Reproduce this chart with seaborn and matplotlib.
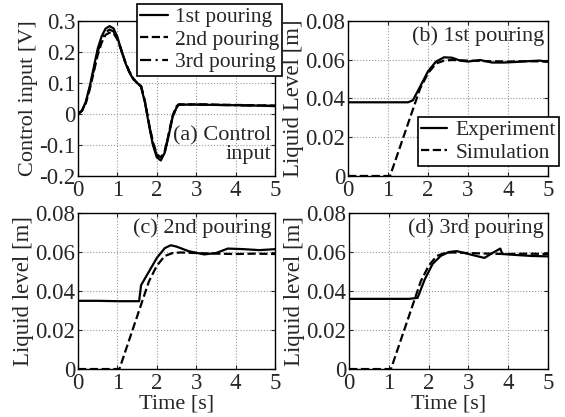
import matplotlib
matplotlib.use("Agg")
import matplotlib.pyplot as plt
import seaborn as sns

# Control input [V]
t_u = [0, 0.1, 0.2, 0.3, 0.4, 0.5, 0.6, 0.7, 0.8, 0.9, 1.0, 1.1, 1.2, 1.3, 1.4, 1.5, 1.6,
       1.7, 1.8, 1.9, 2.0, 2.1, 2.2, 2.3, 2.4, 2.5, 2.55, 3.0, 3.5, 4.0, 4.5, 5.0]
u_1st = [0, 0.01, 0.04, 0.09, 0.15, 0.21, 0.25, 0.275, 0.283, 0.276, 0.248, 0.205, 0.165, 0.135,
         0.112, 0.10, 0.088, 0.035, -0.035, -0.10, -0.14, -0.15, -0.125, -0.07, -0.01, 0.02, 0.03,
         0.03, 0.029, 0.028, 0.027, 0.025]
u_2nd = [0, 0.01, 0.035, 0.08, 0.135, 0.19, 0.23, 0.255, 0.262, 0.26, 0.24, 0.205, 0.168, 0.138,
         0.115, 0.10, 0.09, 0.04, -0.03, -0.09, -0.13, -0.14, -0.12, -0.065, -0.005, 0.025, 0.03,
         0.031, 0.03, 0.029, 0.028, 0.027]
u_3rd = [0, 0.01, 0.038, 0.085, 0.14, 0.2, 0.24, 0.263, 0.272, 0.266, 0.243, 0.205, 0.166, 0.136,
         0.113, 0.10, 0.089, 0.038, -0.032, -0.095, -0.135, -0.145, -0.122, -0.067, -0.008, 0.022, 0.03,
         0.03, 0.029, 0.028, 0.027, 0.026]

# Simulated liquid level [m] (same for all pourings)
t_sim = [0, 1.05, 1.5, 1.8, 2.0, 2.2, 2.4, 2.6, 3.0, 3.5, 4.0, 4.5, 5.0]
h_sim = [0, 0, 0.027, 0.045, 0.053, 0.058, 0.0595, 0.0598, 0.0595, 0.0592, 0.059, 0.0592, 0.059]

# Experimental liquid level [m]
t_exp1 = [0, 0.5, 1.0, 1.5, 1.62, 1.8, 2.0, 2.2, 2.4, 2.6, 2.8, 3.0, 3.3, 3.6, 3.9, 4.2, 4.5, 4.8, 5.0]
h_exp1 = [0.038, 0.038, 0.038, 0.038, 0.039, 0.046, 0.054, 0.059, 0.0612, 0.061, 0.0595, 0.059,
          0.0598, 0.0585, 0.0585, 0.0588, 0.0592, 0.0595, 0.0588]
t_exp2 = [0, 0.5, 1.0, 1.55, 1.6, 1.8, 2.0, 2.2, 2.35, 2.5, 2.8, 3.2, 3.5, 3.8, 4.2, 4.6, 5.0]
h_exp2 = [0.035, 0.035, 0.0348, 0.0348, 0.043, 0.05, 0.057, 0.062, 0.0635, 0.0628, 0.0605, 0.0588,
          0.0595, 0.0618, 0.0615, 0.061, 0.0615]
t_exp3 = [0, 0.5, 1.0, 1.5, 1.72, 1.9, 2.1, 2.3, 2.5, 2.7, 3.0, 3.4, 3.6, 3.8, 3.85, 4.2, 4.6, 5.0]
h_exp3 = [0.036, 0.036, 0.036, 0.036, 0.0365, 0.046, 0.054, 0.058, 0.06, 0.0605, 0.059, 0.057,
          0.0595, 0.0618, 0.059, 0.0585, 0.058, 0.0578]

pour_labels = ["1st pouring", "2nd pouring", "3rd pouring"]

sns.set_style("whitegrid", {"grid.linestyle": ":", "grid.color": "#999999",
                            "axes.edgecolor": "black", "xtick.direction": "in",
                            "ytick.direction": "in", "xtick.bottom": True, "ytick.left": True})
plt.rcParams["font.family"] = ["Liberation Serif", "DejaVu Serif"]
plt.rcParams["font.size"] = 16

fig = plt.figure(figsize=(5.65, 4.17), dpi=100)
ax_a = fig.add_axes([0.138, 0.578, 0.349, 0.372])
ax_b = fig.add_axes([0.616, 0.578, 0.354, 0.372])
ax_c = fig.add_axes([0.138, 0.115, 0.349, 0.374])
ax_d = fig.add_axes([0.618, 0.115, 0.352, 0.374])

# (a) control input
styles = ["-", "--", (0, (5, 2, 1, 2))]
for u, lab, ls in zip([u_1st, u_2nd, u_3rd], pour_labels, styles):
    sns.lineplot(x=t_u, y=u, ax=ax_a, color="black", linestyle=ls, linewidth=1.6, label=lab)
ax_a.set_ylim(-0.2, 0.3)
ax_a.set_yticks([-0.2, -0.1, 0, 0.1, 0.2, 0.3])
ax_a.set_yticklabels(["-0.2", "-0.1", "0", "0.1", "0.2", "0.3"])
ax_a.set_ylabel("Control input [V]", labelpad=1, fontsize=16)
ax_a.text(0.98, 0.20, "(a) Control\ninput", transform=ax_a.transAxes, ha="right", va="center",
          linespacing=1.0, fontsize=16)
leg = ax_a.legend(loc="upper left", bbox_to_anchor=(0.30, 1.11), frameon=True, fancybox=False,
                  edgecolor="black", framealpha=1, borderpad=0.15, labelspacing=0.12,
                  handlelength=1.3, handletextpad=0.3, borderaxespad=0, fontsize=15.5)
leg.get_frame().set_linewidth(1.2)

# level panels
panels = [(ax_b, t_exp1, h_exp1, "(b) 1st pouring", "Liquid Level [m]"),
          (ax_c, t_exp2, h_exp2, "(c) 2nd pouring", "Liquid level [m]"),
          (ax_d, t_exp3, h_exp3, "(d) 3rd pouring", "Liquid level [m]")]
for ax, te, he, title, ylab in panels:
    sns.lineplot(x=te, y=he, ax=ax, color="black", linestyle="-", linewidth=1.6, label="Experiment")
    sns.lineplot(x=t_sim, y=h_sim, ax=ax, color="black", linestyle="--", linewidth=1.6, label="Simulation")
    ax.set_ylim(0, 0.08)
    ax.set_yticks([0, 0.02, 0.04, 0.06, 0.08])
    ax.set_yticklabels(["0", "0.02", "0.04", "0.06", "0.08"])
    ax.set_ylabel(ylab, labelpad=1, fontsize=16.5)
    ax.text(0.98, 0.965, title, transform=ax.transAxes, ha="right", va="top", fontsize=16)
    if ax is ax_b:
        lg = ax.legend(loc="upper left", bbox_to_anchor=(0.35, 0.38), frameon=True, fancybox=False,
                       edgecolor="black", framealpha=1, borderpad=0.15, labelspacing=0.12,
                       handlelength=1.2, handletextpad=0.4, borderaxespad=0, fontsize=15.5)
        lg.get_frame().set_linewidth(1.2)
    else:
        ax.get_legend().remove()

for ax in [ax_a, ax_b, ax_c, ax_d]:
    ax.set_xlim(0, 5)
    ax.set_xticks([0, 1, 2, 3, 4, 5])
    ax.tick_params(axis="both", which="both", direction="in", top=True, right=True, pad=2,
                   length=3, labelsize=16.5)
    ax.tick_params(axis="x", pad=3)
    for s in ax.spines.values():
        s.set_linewidth(1.0)
    ax.grid(True, linestyle=":", color="#999999", linewidth=0.8)

ax_c.set_xlabel("Time [s]", labelpad=0, fontsize=16)
ax_d.set_xlabel("Time [s]", labelpad=0, fontsize=16)

fig.savefig("out.png", dpi=100, facecolor="white")
